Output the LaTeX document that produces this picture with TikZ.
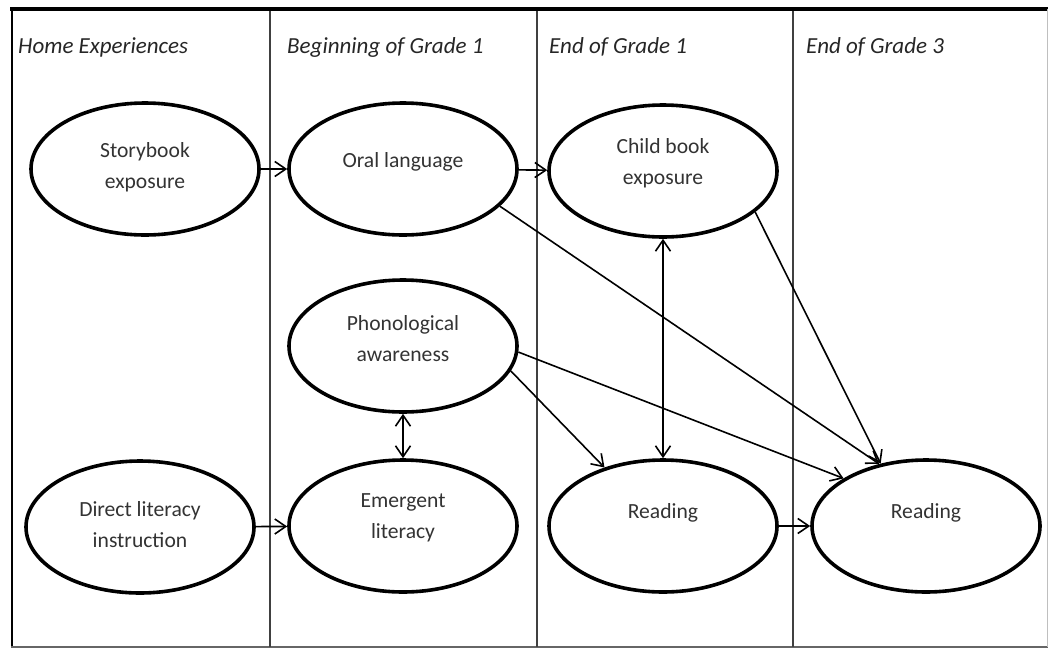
\documentclass[tikz,border=0pt]{standalone}
\usepackage{fontspec}
\setmainfont{Carlito}
\usetikzlibrary{arrows.meta,shapes.geometric}
\begin{document}
\begin{tikzpicture}[x=1pt,y=-1pt,
  construct/.style={ellipse,draw,line width=3.6pt,minimum width=228pt,minimum height=132pt,inner sep=0pt},
  tag/.style={font=\fontsize{21.6}{31}\selectfont,text=black!80,align=center},
  head/.style={font=\fontsize{23}{27}\selectfont\itshape,anchor=base west,text=black!85,inner sep=0pt},
  barb/.tip={Straight Barb[length=11pt,width=15pt,line width=1.6pt]},
  effect/.style={line width=1.6pt,-barb},
  mutual/.style={line width=1.8pt,barb-barb},
  divider/.style={line width=1.4pt,black!75}]
\useasboundingbox (0,0) rectangle (1048,648);

% frame and column dividers
\draw[line width=4pt] (10,9) -- (1048,9);
\draw[line width=2pt] (12,9) -- (12,648);
\draw[line width=1.5pt,black!60] (11,647) -- (1048,647);
\draw[line width=1pt,black!25] (1047,9) -- (1047,647);
\foreach \x in {270,537,793} \draw[divider] (\x,11) -- (\x,647);

% column headings
\node[head] (h1) at (18,53) {Home Experiences};
\node[head] (h2) at (287,53) {Beginning of Grade 1};
\node[head] (h3) at (549,53) {End of Grade 1};
\node[head] (h4) at (806,53) {End of Grade 3};

% constructs
\node[construct,label={[tag,yshift=2pt]center:Storybook\\exposure}] (sb) at (145,169) {};
\node[construct,label={[tag,yshift=7pt]center:Oral language}] (ol) at (403,169) {};
\node[construct,label={[tag,yshift=8pt]center:Child book\\exposure}] (cb) at (663,171) {};
\node[construct,label={[tag,yshift=7pt]center:Phonological\\awareness}] (ph) at (403,346) {};
\node[construct,label={[tag,yshift=2pt]center:Direct literacy\\instruction}] (dl) at (140,527) {};
\node[construct,label={[tag,yshift=8pt]center:Emergent\\literacy}] (em) at (403,526) {};
\node[construct,label={[tag,yshift=13pt]center:Reading}] (r1) at (663,526) {};
\node[construct,label={[tag,yshift=13pt]center:Reading}] (r3) at (926,526) {};

% paths
\draw[effect] (sb) -- (ol);
\draw[effect] (ol) -- (cb);
\draw[effect] (dl) -- (em);
\draw[effect] (r1) -- (r3);
\draw[effect] (ol.-21) -- (r3.127);
\draw[effect] (cb.-24) -- (r3.126);
\draw[effect] (ph.-3) -- (r3.150);
\draw[effect] (ph.-13) -- (r1.135);
\draw[mutual] (cb) -- (r1);
\draw[mutual] (ph) -- (em);
\end{tikzpicture}
\end{document}
